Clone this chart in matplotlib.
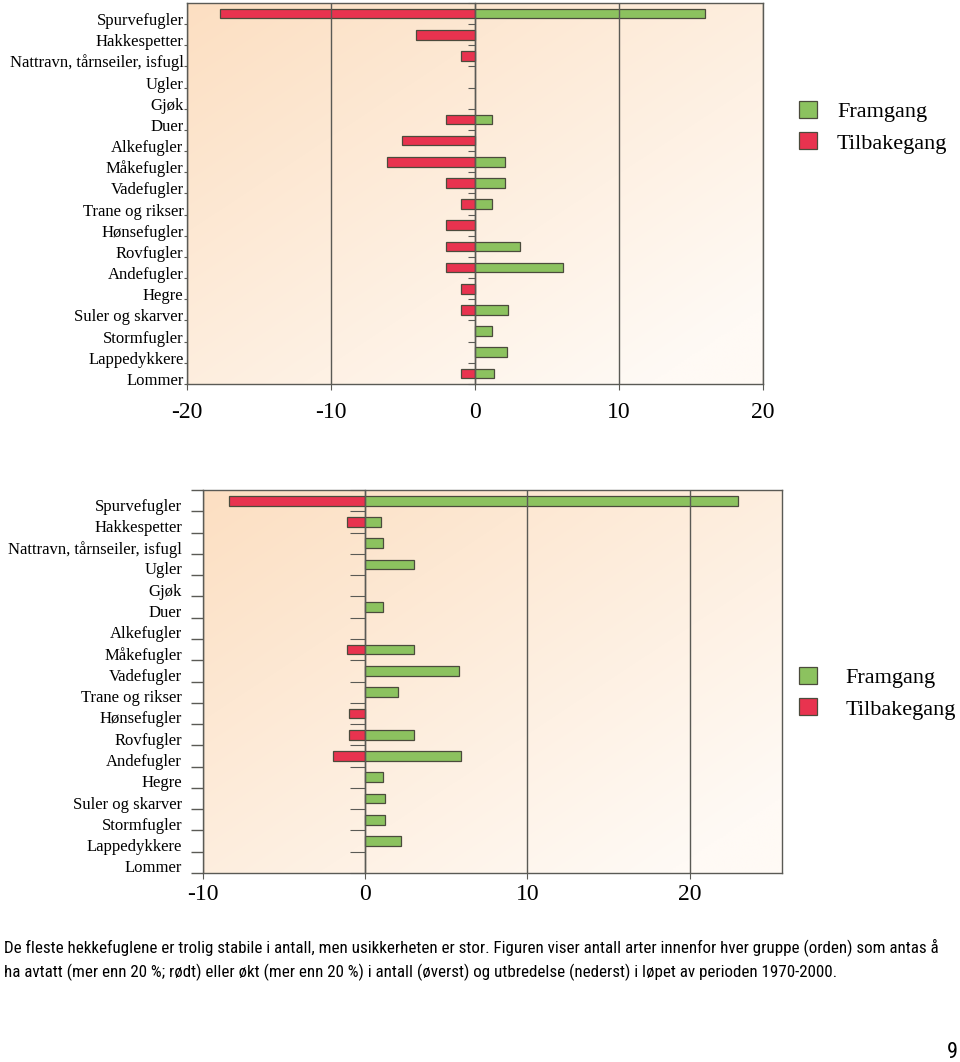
import numpy as np
import matplotlib
matplotlib.use("Agg")
from matplotlib import pyplot as plt
from matplotlib import font_manager
from matplotlib.patches import Patch
from matplotlib.colors import to_rgb
from matplotlib.transforms import ScaledTranslation

# bird groups, top to bottom
categories = ['Spurvefugler', 'Hakkespetter', 'Nattravn, tårnseiler, isfugl', 'Ugler', 'Gjøk',
              'Duer', 'Alkefugler', 'Måkefugler', 'Vadefugler', 'Trane og rikser', 'Hønsefugler',
              'Rovfugler', 'Andefugler', 'Hegre', 'Suler og skarver', 'Stormfugler',
              'Lappedykkere', 'Lommer']

# number of species, upper panel (antall)
top_decline = [-17.7, -4.1, -1, 0, 0, -2, -5.1, -6.1, -2, -1, -2, -2, -2, -1, -1, 0, 0, -1]
top_increase = [16, 0, 0, 0, 0, 1.2, 0, 2.1, 2.1, 1.2, 0, 3.1, 6.1, 0, 2.3, 1.2, 2.2, 1.3]

# lower panel (utbredelse)
bottom_decline = [-8.4, -1.1, 0, 0, 0, 0, 0, -1.1, 0, 0, -1, -1, -2, 0, 0, 0, 0, 0]
bottom_increase = [23, 1, 1.1, 3, 0, 1.1, 0, 3, 5.8, 2, 0, 3, 5.9, 1.1, 1.2, 1.2, 2.2, 0]

legend_labels = ['Framgang', 'Tilbakegang']
caption_lines = ['De fleste hekkefuglene er trolig stabile i antall, men usikkerheten er stor. '
                 'Figuren viser antall arter innenfor hver gruppe (orden) som antas å',
                 'ha avtatt (mer enn 20 %; rødt) eller økt (mer enn 20 %) i antall (øverst) og '
                 'utbredelse (nederst) i løpet av perioden 1970-2000.']

GREEN = '#8cc25f'
RED = '#e8334f'
EDGE = '#4b4b3c'
LINE = '#5a5a55'
SERIF = 'Liberation Serif'


def caption_font():
    # prefer a narrow sans face, the original caption is set in a condensed font
    fonts = font_manager.fontManager.ttflist
    for key in ['Liberation Sans Narrow', 'Roboto Condensed', 'Open Sans Condensed',
                'DejaVu Sans Condensed']:
        for f in fonts:
            if (f.name == key or key in f.fname.replace('-', ' ')) and f.style == 'normal' \
                    and f.weight in (400, 'normal', 'regular'):
                return font_manager.FontProperties(fname=f.fname)
    for f in fonts:
        if f.name == 'DejaVu Sans' and f.stretch == 'condensed' and f.style == 'normal' \
                and f.weight in (400, 'normal'):
            return font_manager.FontProperties(fname=f.fname)
    return font_manager.FontProperties(family='Liberation Sans')


W, H = 960, 1062
fig = plt.figure(figsize=(W / 100, H / 100), dpi=100)


def px_axes(left, top, right, bottom):
    return fig.add_axes([left / W, 1 - bottom / H, (right - left) / W, (bottom - top) / H])


def gradient(ax):
    c0 = np.array(to_rgb('#fcdfc2'))
    c1 = np.array(to_rgb('#fffaf5'))
    xx, yy = np.meshgrid(np.linspace(0, 1, 200), np.linspace(0, 1, 200))
    u = np.clip((xx + yy) / 1.8, 0, 1)  # row 0 is the top with origin='upper'
    img = c0 + (c1 - c0) * u[..., None]
    ax.imshow(img, extent=(0, 1, 0, 1), transform=ax.transAxes, aspect='auto',
              zorder=-5, interpolation='bilinear')


def draw_panel(ax, decline, increase, xlim, xticks, left_tick_len, zero_tick_len, top_style):
    n = len(categories)
    y = np.arange(n)
    gradient(ax)
    dec = np.array(decline, dtype=float)
    inc = np.array(increase, dtype=float)
    m = dec != 0
    ax.barh(y[m], dec[m], height=0.46, color=RED, edgecolor=EDGE, linewidth=0.9, zorder=2)
    m = inc != 0
    ax.barh(y[m], inc[m], height=0.46, color=GREEN, edgecolor=EDGE, linewidth=0.9, zorder=2)

    ax.set_xlim(*xlim)
    ax.set_ylim(n - 0.5, -0.5)
    ax.set_xticks(xticks)
    ax.set_xticklabels([str(t) for t in xticks], fontfamily=SERIF, fontsize=17)
    ax.grid(axis='x', color=LINE, linewidth=1.0)
    ax.set_axisbelow(False)
    for s in ax.spines.values():
        s.set_color(LINE)
        s.set_linewidth(1.0)

    if top_style:
        # label sits on the tick at the lower edge of each band
        ax.set_yticks(y + 0.5)
        ax.set_yticklabels(categories, fontfamily=SERIF, fontsize=12, va='baseline')
        ax.tick_params(axis='y', direction='out', length=left_tick_len, color=LINE, pad=0)
        ax.tick_params(axis='x', direction='out', length=4, color=LINE, pad=9)
        shift = ScaledTranslation(0, -0.01, fig.dpi_scale_trans)
    else:
        ax.set_yticks(y)
        ax.set_yticklabels(categories, fontfamily=SERIF, fontsize=12)
        ax.set_yticks(np.arange(n + 1) - 0.5, minor=True)
        ax.tick_params(axis='y', which='major', length=0, pad=left_tick_len + 6)
        ax.tick_params(axis='y', which='minor', direction='out', length=left_tick_len,
                       color=LINE, width=1)
        ax.tick_params(axis='x', direction='out', length=4, color=LINE, pad=4)
        shift = ScaledTranslation(0, -0.04, fig.dpi_scale_trans)
    for lbl in ax.get_yticklabels():
        lbl.set_transform(lbl.get_transform() + shift)

    # category axis drawn through zero
    frac = (0 - xlim[0]) / (xlim[1] - xlim[0])
    sec = ax.secondary_yaxis(frac)
    sec.set_alignment('left')
    sec.set_yticks(np.arange(n + 1) - 0.5)
    sec.tick_params(axis='y', direction='out', length=zero_tick_len, color=LINE,
                    labelleft=False, labelright=False)
    sec.spines['left'].set_color(LINE)
    sec.spines['left'].set_linewidth(1.0)


ax1 = px_axes(187, 3, 763, 384)
draw_panel(ax1, top_decline, top_increase, (-20, 20), [-20, -10, 0, 10, 20], 2.5, 5, True)

ax2 = px_axes(203, 490, 782, 873)
draw_panel(ax2, bottom_decline, bottom_increase, (-10, 25.7), [-10, 0, 10, 20], 9, 11, False)

handles = [Patch(facecolor=GREEN, edgecolor=EDGE, linewidth=0.9),
           Patch(facecolor=RED, edgecolor=EDGE, linewidth=0.9)]
fig.legend(handles, legend_labels, loc='upper left', bbox_to_anchor=(788 / W, 1 - 90 / H),
           frameon=False, borderpad=0, handlelength=0.8, handleheight=0.8,
           handletextpad=0.9, labelspacing=0.45, prop={'family': SERIF, 'size': 16})
fig.legend(handles, legend_labels, loc='upper left', bbox_to_anchor=(788 / W, 1 - 656 / H),
           frameon=False, borderpad=0, handlelength=0.8, handleheight=0.8,
           handletextpad=1.3, labelspacing=0.45, prop={'family': SERIF, 'size': 16})

cap_fp = caption_font()
cap_texts = []
for i, line in enumerate(caption_lines):
    cap_texts.append(fig.text(4 / W, 1 - (945 + 25 * i) / H, line, ha='left',
                              va='center_baseline', fontproperties=cap_fp, fontsize=14))
# shrink the caption until its longest line fits the page width
fig.canvas.draw()
width = max(t.get_window_extent().width for t in cap_texts)
if width > 942:
    for t in cap_texts:
        t.set_fontsize(14 * 942 / width)
fig.text(958 / W, 1 - 1053 / H, '9', ha='right', va='center', fontsize=16,
         fontproperties=cap_fp)

fig.savefig('out.png', dpi=100)
